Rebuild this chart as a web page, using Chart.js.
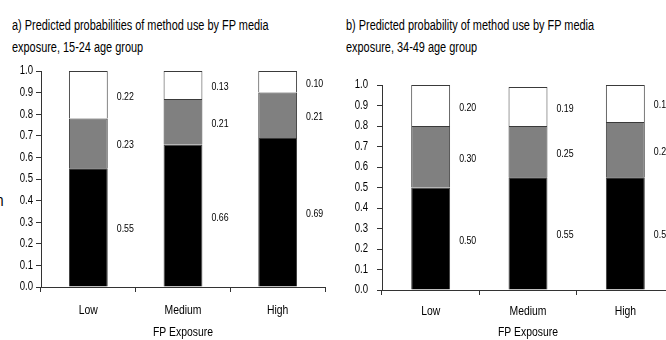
<!DOCTYPE html>
<html>
<head>
<meta charset="utf-8">
<script src="https://cdn.jsdelivr.net/npm/chart.js@4"></script>
<style>
  html, body { margin: 0; padding: 0; background: #fff; overflow: hidden; }
  body { width: 666px; height: 340px; position: relative; font-family: "Liberation Sans", Arial, sans-serif; color: #000; }
  .title { position: absolute; font-size: 14px; line-height: 22px; color: #000; white-space: nowrap; transform: scaleX(0.78); transform-origin: 0 0; }
  .stray { position: absolute; left: -4px; top: 191px; font-size: 17px; color: #000; transform: scaleX(0.8); transform-origin: 0 0; }
  #boxA { position: absolute; left: 0; top: 60px; width: 335px; height: 280px; }
  #boxB { position: absolute; left: 335px; top: 60px; width: 350px; height: 280px; }
</style>
</head>
<body>
<div class="title" style="left:12px; top:14px;">a) Predicted probabilities of method use by FP media<br>exposure, 15-24 age group</div>
<div class="title" style="left:346px; top:14px;">b) Predicted probability of method use by FP media<br>exposure, 34-49 age group</div>
<div class="stray">n</div>
<div id="boxA"><canvas id="chartA"></canvas></div>
<div id="boxB"><canvas id="chartB"></canvas></div>
<script>
const categories = ["Low", "Medium", "High"];
const yTicks = [0, 0.1, 0.2, 0.3, 0.4, 0.5, 0.6, 0.7, 0.8, 0.9, 1.0];

// 15-24 age group
const youngBlack = [0.55, 0.66, 0.69];
const youngGrey = [0.23, 0.21, 0.21];
const youngWhite = [0.22, 0.13, 0.10];

// 34-49 age group
const olderBlack = [0.50, 0.55, 0.55];
const olderGrey = [0.30, 0.25, 0.27];
const olderWhite = [0.20, 0.19, 0.18];

const FONT = "'Liberation Sans', Arial, sans-serif";

// the original uses a narrow face; squeeze canvas text horizontally while drawing
const condense = {
  id: "condense",
  beforeDraw(chart) {
    const ctx = chart.ctx;
    const orig = CanvasRenderingContext2D.prototype.fillText;
    ctx.fillText = function (text, x, y) {
      this.save();
      this.translate(x, y);
      this.scale(0.8, 1);
      orig.call(this, text, 0, 0);
      this.restore();
    };
  },
  afterDraw(chart) {
    delete chart.ctx.fillText;
  },
};

// writes each segment's value to the right of its bar
const valueLabels = {
  id: "valueLabels",
  afterDatasetsDraw(chart) {
    const ctx = chart.ctx;
    ctx.save();
    ctx.font = "11px " + FONT;
    ctx.fillStyle = "#000";
    ctx.textAlign = "left";
    ctx.textBaseline = "middle";
    chart.data.datasets.forEach((ds, i) => {
      chart.getDatasetMeta(i).data.forEach((bar, j) => {
        const x = bar.x + bar.width / 2 + 9;
        const y = (bar.y + bar.base) / 2 + 2;
        ctx.fillText(ds.data[j].toFixed(2), x, y);
      });
    });
    ctx.restore();
  },
};

function makeChart(id, black, grey, white, opt) {
  const ctx = document.getElementById(id);
  return new Chart(ctx, {
    type: "bar",
    data: {
      labels: categories,
      datasets: [
        { data: black, backgroundColor: "#000000" },
        { data: grey, backgroundColor: "#808080" },
        { data: white, backgroundColor: "#ffffff" },
      ].map((d) => ({
        ...d,
        borderColor: "#3a3a3a",
        borderWidth: 1,
        barPercentage: opt.barPct,
        categoryPercentage: 1,
      })),
    },
    plugins: [condense, valueLabels],
    options: {
      responsive: true,
      maintainAspectRatio: false,
      animation: false,
      events: [],
      layout: { padding: { top: opt.top, right: opt.right, left: 0, bottom: 0 } },
      plugins: { legend: { display: false }, tooltip: { enabled: false }, title: { display: false } },
      scales: {
        x: {
          stacked: true,
          offset: true,
          afterFit: (s) => { s.height = opt.xHeight; },
          grid: { display: true, offset: true, drawOnChartArea: false, drawTicks: true, tickLength: 5, color: "#333" },
          border: { display: true, color: "#333", width: 1 },
          ticks: { color: "#000", font: { family: FONT, size: 13 }, padding: opt.xPad },
          title: { display: true, text: "FP Exposure", color: "#000", font: { family: FONT, size: 13 }, padding: { top: opt.titlePad, bottom: 0 } },
        },
        y: {
          stacked: true,
          min: 0,
          max: 1,
          afterFit: (s) => { s.width = opt.yWidth; },
          afterBuildTicks: (s) => { s.ticks = yTicks.map((v) => ({ value: v })); },
          grid: { display: true, drawOnChartArea: false, drawTicks: true, tickLength: 5, color: "#333" },
          border: { display: true, color: "#333", width: 1 },
          ticks: { color: "#000", font: { family: FONT, size: 12 }, padding: opt.yPad, callback: (v) => Number(v).toFixed(1) },
        },
      },
    },
  });
}

makeChart("chartA", youngBlack, youngGrey, youngWhite, { top: 11, right: 10, xHeight: 53, yWidth: 41, yPad: 3, xPad: 11, titlePad: 9, barPct: 0.41 });
makeChart("chartB", olderBlack, olderGrey, olderWhite, { top: 25, right: 11, xHeight: 50, yWidth: 47, yPad: 9, xPad: 9, titlePad: 8, barPct: 0.40 });
</script>
</body>
</html>
